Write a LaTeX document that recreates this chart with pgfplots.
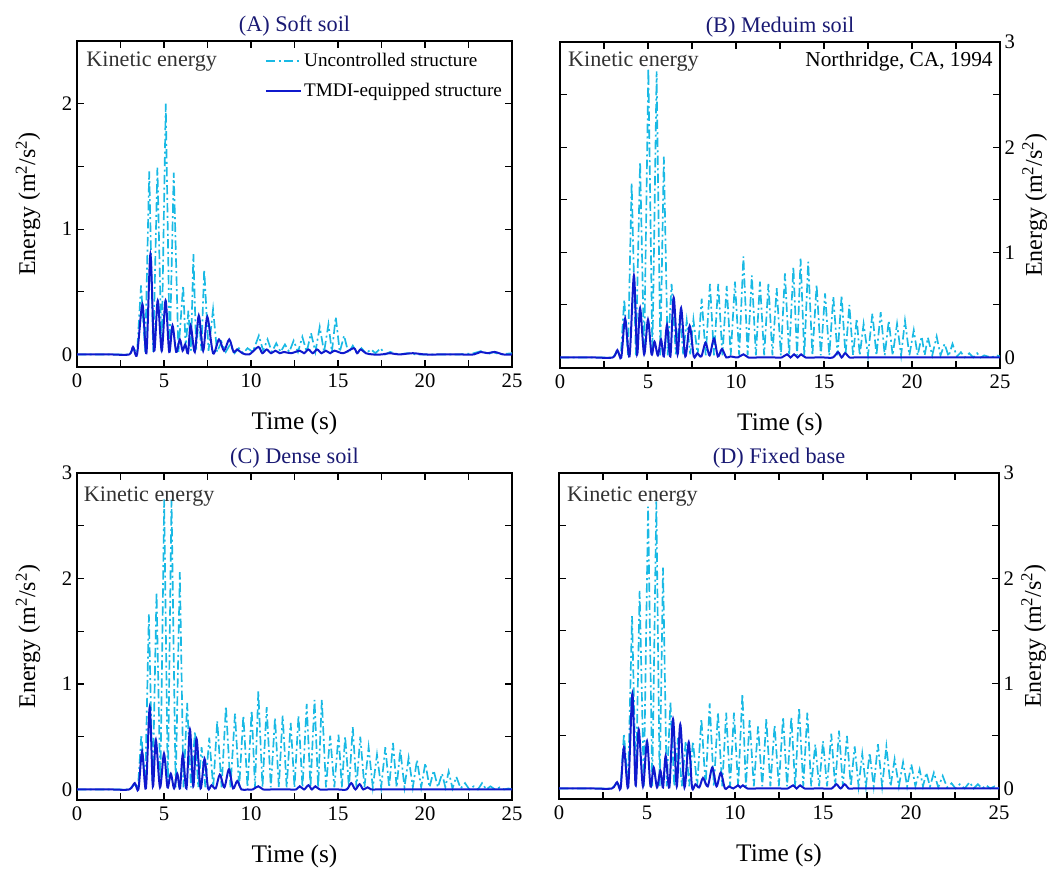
\documentclass[border=0pt]{standalone}
\usepackage{fontspec}
\setmainfont{Liberation Serif}
\usepackage{pgfplots}
\pgfplotsset{compat=1.18}
\definecolor{cyanline}{RGB}{25,185,228}
\definecolor{blueline}{RGB}{15,25,205}
\definecolor{titlenavy}{RGB}{25,25,115}
\definecolor{annot}{RGB}{50,50,50}
\newcommand{\tickfont}{\fontsize{15.5}{18}\selectfont}
\pgfplotsset{
  panel/.style={
    scale only axis, xmin=0, xmax=25,
    xtick={0,5,10,15,20,25}, minor xtick={2.5,7.5,12.5,17.5,22.5},
    tick align=inside, major tick length=5pt, minor tick length=5pt,
    axis line style={line width=0.8pt},
    every tick/.append style={black, line width=0.8pt},
    /pgf/number format/assume math mode=true,
    tick label style={font=\tickfont},
    xticklabel style={font=\tickfont, yshift=-1.5pt},
    yticklabel style={font=\tickfont},
    xlabel={Time (s)},
    ylabel={Energy (m\textsuperscript{2}/s\textsuperscript{2})},
    xlabel style={font=\fontsize{19}{22}\selectfont, at={(0.5,0)}, anchor=center, yshift=-42pt},
    title style={font=\fontsize{16.7}{20}\selectfont, text=titlenavy, at={(0.5,1)}, anchor=center, yshift=5pt},
    ylabel style={font=\fontsize{18}{21}\selectfont},
  },
  leftp/.style={ylabel style={at={(0,0.5)}, anchor=center, yshift=36.75pt}},
  rightp/.style={yticklabel pos=right, ylabel style={at={(1,0.5)}, anchor=center, yshift=-26pt}},
  unc/.style={cyanline, line width=1.25pt, dash pattern=on 7pt off 2.5pt on 1.5pt off 2.5pt},
  tmdi/.style={blueline, line width=1.5pt, smooth, tension=0.5},
}
\newcommand{\annotfont}{\fontsize{16.6}{19}\selectfont}
\begin{document}
\begin{tikzpicture}
\useasboundingbox (0,0) rectangle (797.25pt,654pt);
% (A)
\begin{axis}[panel, leftp, at={(57.75pt,378.75pt)}, anchor=south west,
  width=326.25pt, height=244.5pt, ymin=-0.1, ymax=2.5, ytick={0,1,2}, minor ytick={0.5,1.5},
  title={(A) Soft soil},
  legend style={draw=none, fill=none, at={(0.422,0.98)}, anchor=north west,
    font=\fontsize{14.4}{17}\selectfont, row sep=7pt, legend cell align=left},
  legend image code/.code={\draw[#1] (0pt,0pt) -- (26pt,0pt);}]
\addplot[unc] coordinates {(0,0) (3.0,0) (3.25,0.05) (3.45,0.01) (3.68,0.55) (3.92,0.02) (4.15,1.46) (4.38,0.02) (4.62,1.49) (4.86,0.02) (5.1,2.0) (5.33,0.02) (5.56,1.45) (5.83,0.02) (6.1,0.55) (6.25,0.05) (6.4,0.35) (6.55,0.03) (6.69,0.8) (6.85,0.04) (7.0,0.3) (7.15,0.03) (7.31,0.68) (7.56,0.03) (7.82,0.36) (8.05,0.02) (8.3,0.1) (8.55,0.02) (8.8,0.08) (9.05,0.01) (9.3,0.05) (9.55,0.01) (9.8,0.05) (10.1,0.02) (10.45,0.15) (10.7,0.03) (10.95,0.12) (11.2,0.02) (11.45,0.09) (11.7,0.02) (11.95,0.08) (12.2,0.02) (12.45,0.11) (12.7,0.02) (12.95,0.14) (13.2,0.02) (13.45,0.17) (13.7,0.02) (13.95,0.22) (14.2,0.02) (14.45,0.24) (14.65,0.02) (14.87,0.3) (15.1,0.02) (15.35,0.15) (15.6,0.01) (15.85,0.07) (16.1,0.01) (16.35,0.05) (16.6,0.01) (16.9,0.04) (17.15,0.01) (17.45,0.05) (17.7,0.0) (18.0,0.02) (18.5,0.0) (19.0,0.01) (19.5,0.0) (22.0,0.0) (22.8,0.01) (23.3,0.03) (23.6,0.0) (23.9,0.02) (24.3,0.0) (25,0.01)};
\addlegendentry{Uncontrolled structure}
\addplot[tmdi] coordinates {(0,0) (1,0) (2,0) (3.0,0) (3.22,0.06) (3.45,0.0) (3.76,0.40) (3.99,0.01) (4.22,0.80) (4.43,0.03) (4.64,0.43) (4.87,0.03) (5.09,0.43) (5.3,0.02) (5.49,0.23) (5.7,0.02) (5.91,0.12) (6.07,0.03) (6.22,0.08) (6.38,0.01) (6.53,0.23) (6.77,0.02) (7.0,0.31) (7.25,0.03) (7.49,0.30) (7.82,0.01) (8.16,0.12) (8.45,0.03) (8.75,0.12) (9.0,0.02) (9.2,0.04) (9.5,0.01) (9.9,0.0) (10.42,0.06) (10.65,0.01) (10.9,0.04) (11.15,0.01) (11.4,0.03) (11.65,0.01) (11.9,0.02) (12.3,0.01) (12.8,0.03) (13.05,0.01) (13.3,0.04) (13.55,0.01) (13.8,0.04) (14.05,0.01) (14.3,0.03) (14.55,0.01) (14.8,0.03) (15.3,0.01) (15.9,0.05) (16.1,0.01) (16.3,0.04) (16.6,0.01) (17.0,0.0) (17.5,0.0) (18.0,0.01) (18.5,0.0) (19.3,0.01) (20.0,0.0) (21,0) (22,0) (22.8,0.0) (23.2,0.02) (23.6,0.01) (24.0,0.02) (24.5,0.0) (25,0)};
\addlegendentry{TMDI-equipped structure}
\node[anchor=west, font=\annotfont, text=annot] at (rel axis cs:0.011,0.936) {Kinetic energy};
\end{axis}
% (B)
\begin{axis}[panel, rightp, at={(420pt,378pt)}, anchor=south west,
  width=330pt, height=244.5pt, ymin=-0.1, ymax=3, ytick={0,1,2,3}, minor ytick={0.5,1.5,2.5},
  title={(B) Meduim soil}]
\addplot[unc] coordinates {(0,0) (3.0,0) (3.25,0.06) (3.45,0.01) (3.65,0.55) (3.86,0.02) (4.07,1.66) (4.31,0.02) (4.55,1.86) (4.78,0.02) (5.02,2.75) (5.25,0.02) (5.49,2.72) (5.7,0.02) (5.9,1.91) (6.12,0.02) (6.34,0.70) (6.58,0.03) (6.82,0.40) (7.0,0.03) (7.2,0.35) (7.4,0.03) (7.58,0.36) (7.82,0.02) (8.05,0.56) (8.28,0.02) (8.52,0.70) (8.75,0.02) (8.99,0.70) (9.23,0.02) (9.47,0.68) (9.7,0.02) (9.94,0.72) (10.18,0.02) (10.42,0.96) (10.66,0.02) (10.9,0.78) (11.13,0.02) (11.36,0.72) (11.6,0.02) (11.84,0.70) (12.07,0.02) (12.31,0.66) (12.55,0.02) (12.78,0.80) (13.02,0.02) (13.26,0.86) (13.47,0.02) (13.67,0.94) (13.88,0.02) (14.1,0.91) (14.34,0.02) (14.58,0.69) (14.82,0.02) (15.06,0.61) (15.3,0.02) (15.53,0.58) (15.77,0.02) (16.0,0.59) (16.22,0.02) (16.44,0.50) (16.65,0.02) (16.86,0.37) (17.03,0.02) (17.25,0.32) (17.5,0.02) (17.75,0.42) (17.98,0.02) (18.22,0.43) (18.45,0.02) (18.68,0.35) (18.9,0.02) (19.15,0.32) (19.38,0.02) (19.6,0.35) (19.85,0.02) (20.1,0.26) (20.32,0.02) (20.55,0.20) (20.72,0.02) (20.9,0.19) (21.15,0.02) (21.4,0.20) (21.62,0.02) (21.85,0.13) (22.08,0.01) (22.3,0.13) (22.55,0.01) (22.78,0.05) (23.0,0.0) (23.25,0.04) (23.48,0.0) (23.7,0.04) (23.9,0.0) (24.1,0.02) (24.5,0.0) (24.8,0.02) (25,0.01)};
\addplot[tmdi] coordinates {(0,0) (1,0) (2,0) (3.0,0) (3.26,0.07) (3.48,0.0) (3.7,0.37) (3.95,0.01) (4.2,0.78) (4.38,0.03) (4.55,0.47) (4.78,0.03) (5.0,0.36) (5.2,0.03) (5.37,0.15) (5.56,0.02) (5.74,0.17) (5.9,0.01) (6.08,0.31) (6.27,0.01) (6.46,0.57) (6.68,0.03) (6.88,0.47) (7.12,0.01) (7.37,0.30) (7.6,0.01) (7.8,0.04) (8.03,0.01) (8.27,0.14) (8.5,0.02) (8.75,0.18) (8.97,0.01) (9.2,0.08) (9.45,0.0) (9.68,0.01) (10.1,0.0) (10.42,0.03) (10.7,0.0) (11.2,0) (11.7,0) (12.2,0) (12.6,0.0) (12.9,0.03) (13.1,0.0) (13.3,0.03) (13.5,0.0) (13.7,0.03) (13.95,0.0) (14.5,0) (15.0,0) (15.5,0.0) (15.8,0.05) (16.0,0.0) (16.2,0.04) (16.45,0.0) (16.7,0) (17,0) (17.5,0) (18,0) (19,0) (20,0) (21,0) (22,0) (23,0) (24,0) (25,0)};
\node[anchor=west, font=\annotfont, text=annot] at (rel axis cs:0.008,0.939) {Kinetic energy};
\node[anchor=east, font=\fontsize{16}{19}\selectfont, text=black] at (rel axis cs:0.994,0.939) {Northridge, CA, 1994};
\end{axis}
% (C)
\begin{axis}[panel, leftp, at={(57.75pt,54pt)}, anchor=south west,
  width=326.25pt, height=245.25pt, ymin=-0.1, ymax=3, ytick={0,1,2,3}, minor ytick={0.5,1.5,2.5},
  title={(C) Dense soil}]
\addplot[unc] coordinates {(0,0) (3.0,0) (3.3,0.05) (3.5,0.01) (3.7,0.52) (3.92,0.02) (4.13,1.66) (4.35,0.02) (4.57,1.87) (4.79,0.02) (5.01,2.75) (5.22,0.02) (5.43,2.75) (5.67,0.02) (5.91,2.06) (6.12,0.02) (6.33,0.82) (6.55,0.02) (6.78,0.55) (6.97,0.02) (7.16,0.40) (7.38,0.02) (7.6,0.49) (7.83,0.02) (8.06,0.65) (8.31,0.02) (8.56,0.79) (8.82,0.02) (9.08,0.72) (9.32,0.02) (9.56,0.70) (9.8,0.02) (10.04,0.75) (10.23,0.02) (10.42,0.93) (10.66,0.02) (10.9,0.78) (11.14,0.02) (11.38,0.68) (11.6,0.02) (11.82,0.70) (12.05,0.02) (12.28,0.63) (12.5,0.02) (12.73,0.70) (12.96,0.02) (13.2,0.81) (13.42,0.02) (13.65,0.85) (13.86,0.02) (14.07,0.85) (14.31,0.02) (14.55,0.51) (14.79,0.02) (15.03,0.52) (15.22,0.02) (15.41,0.50) (15.63,0.02) (15.85,0.59) (16.06,0.02) (16.28,0.50) (16.52,0.02) (16.76,0.40) (17.0,0.02) (17.24,0.33) (17.48,0.02) (17.72,0.40) (17.94,0.02) (18.16,0.44) (18.37,0.02) (18.58,0.38) (18.82,0.02) (19.06,0.30) (19.3,0.02) (19.54,0.28) (19.78,0.02) (20.02,0.25) (20.26,0.02) (20.5,0.18) (20.74,0.02) (20.98,0.15) (21.17,0.02) (21.36,0.17) (21.58,0.01) (21.8,0.12) (22.05,0.01) (22.3,0.06) (22.55,0.0) (22.8,0.03) (23.04,0.0) (23.28,0.06) (23.52,0.0) (23.76,0.03) (24.03,0.0) (24.3,0.02) (24.55,0.0) (24.8,0.01) (25,0)};
\addplot[tmdi] coordinates {(0,0) (1,0) (2,0) (3.0,0) (3.32,0.06) (3.53,0.0) (3.74,0.36) (3.96,0.01) (4.18,0.78) (4.36,0.03) (4.53,0.47) (4.77,0.02) (5.0,0.34) (5.2,0.02) (5.39,0.15) (5.58,0.01) (5.76,0.15) (5.92,0.01) (6.08,0.33) (6.29,0.01) (6.49,0.57) (6.68,0.03) (6.87,0.48) (7.1,0.01) (7.33,0.29) (7.53,0.01) (7.73,0.04) (7.97,0.01) (8.21,0.14) (8.47,0.02) (8.73,0.19) (8.97,0.01) (9.21,0.08) (9.45,0.0) (9.8,0) (10.1,0.0) (10.42,0.03) (10.7,0.0) (11.2,0) (11.7,0) (12.2,0) (12.6,0.0) (12.8,0.03) (13.05,0.0) (13.3,0.04) (13.5,0.0) (13.7,0.03) (13.95,0.0) (14.5,0) (15,0) (15.5,0.0) (15.76,0.06) (16.0,0.0) (16.24,0.05) (16.45,0.0) (16.7,0.02) (16.9,0.0) (17.2,0) (17.6,0) (18,0) (19,0) (20,0) (21,0) (22,0) (23,0) (24,0) (25,0)};
\node[anchor=west, font=\annotfont, text=annot] at (rel axis cs:0.005,0.928) {Kinetic energy};
\end{axis}
% (D)
\begin{axis}[panel, rightp, at={(419.25pt,54.75pt)}, anchor=south west,
  width=330pt, height=244.5pt, ymin=-0.1, ymax=3, ytick={0,1,2,3}, minor ytick={0.5,1.5,2.5},
  title={(D) Fixed base}]
\addplot[unc] coordinates {(0,0) (3.0,0) (3.3,0.05) (3.5,0.01) (3.69,0.52) (3.92,0.02) (4.15,1.64) (4.37,0.02) (4.58,1.88) (4.82,0.02) (5.06,2.68) (5.3,0.02) (5.53,2.73) (5.72,0.02) (5.91,2.10) (6.12,0.02) (6.33,0.82) (6.55,0.02) (6.76,0.48) (6.98,0.02) (7.2,0.45) (7.4,0.02) (7.61,0.45) (7.85,0.02) (8.09,0.66) (8.33,0.02) (8.56,0.81) (8.8,0.02) (9.03,0.72) (9.27,0.02) (9.5,0.72) (9.72,0.02) (9.94,0.72) (10.18,0.02) (10.42,0.90) (10.62,0.02) (10.83,0.65) (11.07,0.02) (11.31,0.59) (11.55,0.02) (11.78,0.66) (12.01,0.02) (12.25,0.60) (12.49,0.02) (12.73,0.68) (12.96,0.02) (13.2,0.68) (13.42,0.02) (13.64,0.77) (13.88,0.02) (14.11,0.72) (14.33,0.02) (14.56,0.42) (14.78,0.02) (15.0,0.45) (15.23,0.02) (15.47,0.52) (15.69,0.02) (15.91,0.55) (16.13,0.02) (16.36,0.50) (16.58,0.02) (16.8,0.40) (17.02,0.02) (17.23,0.33) (17.44,0.02) (17.65,0.34) (17.88,0.02) (18.12,0.42) (18.36,0.02) (18.6,0.40) (18.84,0.02) (19.07,0.28) (19.31,0.02) (19.55,0.25) (19.78,0.02) (20.02,0.23) (20.25,0.02) (20.49,0.18) (20.68,0.02) (20.87,0.15) (21.08,0.02) (21.3,0.15) (21.55,0.01) (21.8,0.12) (22.05,0.01) (22.3,0.05) (22.53,0.0) (22.77,0.04) (23.05,0.0) (23.33,0.06) (23.56,0.0) (23.8,0.04) (24.04,0.0) (24.28,0.03) (24.5,0.0) (24.75,0.02) (25,0)};
\addplot[tmdi] coordinates {(0,0) (1,0) (2,0) (3.0,0) (3.3,0.06) (3.5,0.0) (3.69,0.39) (3.93,0.01) (4.17,0.90) (4.35,0.03) (4.53,0.56) (4.77,0.02) (5.0,0.45) (5.2,0.02) (5.38,0.20) (5.57,0.01) (5.76,0.17) (5.91,0.01) (6.06,0.31) (6.27,0.01) (6.48,0.66) (6.69,0.02) (6.89,0.61) (7.13,0.01) (7.37,0.44) (7.56,0.01) (7.75,0.04) (7.97,0.01) (8.18,0.10) (8.45,0.02) (8.71,0.20) (8.95,0.02) (9.19,0.15) (9.43,0.0) (9.66,0.02) (9.9,0.0) (10.17,0.03) (10.3,0.01) (10.45,0.03) (10.7,0.0) (11.2,0) (11.7,0) (12.2,0) (12.6,0) (13.0,0.0) (13.3,0.03) (13.5,0.0) (13.7,0.03) (13.95,0.0) (14.5,0) (15,0) (15.5,0.0) (15.76,0.04) (16.0,0.0) (16.23,0.04) (16.45,0.0) (16.7,0) (17,0) (17.5,0) (18,0) (19,0) (20,0) (21,0) (22,0) (23,0) (24,0) (25,0)};
\node[anchor=west, font=\annotfont, text=annot] at (rel axis cs:0.008,0.928) {Kinetic energy};
\end{axis}
\end{tikzpicture}
\end{document}
